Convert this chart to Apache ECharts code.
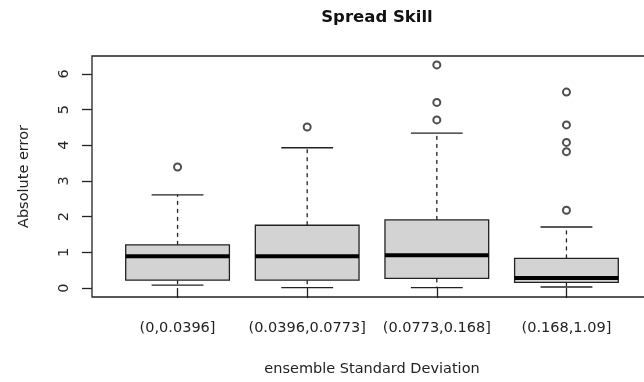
<!DOCTYPE html>
<html>
<head>
<meta charset="utf-8">
<script src="https://cdn.jsdelivr.net/npm/echarts@6/dist/echarts.min.js"></script>
<style>
  html, body { margin: 0; padding: 0; background: #fff; }
  #chart { width: 644px; height: 382px; }
</style>
</head>
<body>
<div id="chart"></div>
<script>
// Spread-skill boxplot: absolute error grouped by ensemble standard deviation bins
const categories = ['(0,0.0396]', '(0.0396,0.0773]', '(0.0773,0.168]', '(0.168,1.09]'];
const lowerWhisker = [0.08, 0.01, 0.01, 0.03];
const lowerHinge   = [0.22, 0.22, 0.27, 0.16];
const medians      = [0.89, 0.89, 0.92, 0.28];
const upperHinge   = [1.21, 1.76, 1.91, 0.83];
const upperWhisker = [2.61, 3.93, 4.34, 1.71];
const outliers = [
  [3.39],
  [4.51],
  [6.25, 5.20, 4.71],
  [5.49, 4.57, 4.08, 3.82, 2.18]
];
const yTicks = [0, 1, 2, 3, 4, 5, 6];
const xTicks = [1, 2, 3, 4];

const FONT = 'DejaVu Sans, Verdana, sans-serif';
const INK = '#222';
const LABEL_SIZE = 14.5;

const boxData = categories.map((c, i) => [
  i + 1, lowerWhisker[i], lowerHinge[i], medians[i], upperHinge[i], upperWhisker[i]
]);
const outlierData = [];
outliers.forEach((vals, i) => vals.forEach(v => outlierData.push([i + 1, v])));

// whiskers (dashed), staples, box and a heavy median bar for one group
function renderBox(params, api) {
  const x = api.value(0);
  const lo = api.coord([x, api.value(1)]);
  const q1 = api.coord([x, api.value(2)]);
  const md = api.coord([x, api.value(3)]);
  const q3 = api.coord([x, api.value(4)]);
  const hi = api.coord([x, api.value(5)]);
  const half = api.size([0.4, 0])[0];
  const cap = api.size([0.2, 0])[0];
  const cx = q1[0];
  const edge = { stroke: INK, lineWidth: 1.3, fill: null };
  const dashed = { stroke: INK, lineWidth: 1.3, lineDash: [4, 4], fill: null };
  return {
    type: 'group',
    children: [
      { type: 'line', shape: { x1: cx, y1: q3[1], x2: cx, y2: hi[1] }, style: dashed },
      { type: 'line', shape: { x1: cx, y1: q1[1], x2: cx, y2: lo[1] }, style: dashed },
      { type: 'line', shape: { x1: cx - cap, y1: hi[1], x2: cx + cap, y2: hi[1] }, style: edge },
      { type: 'line', shape: { x1: cx - cap, y1: lo[1], x2: cx + cap, y2: lo[1] }, style: edge },
      { type: 'rect', shape: { x: cx - half, y: q3[1], width: half * 2, height: q1[1] - q3[1] },
        style: { fill: '#d3d3d3', stroke: INK, lineWidth: 1.3 } },
      { type: 'line', shape: { x1: cx - half, y1: md[1], x2: cx + half, y2: md[1] },
        style: { stroke: '#000', lineWidth: 4 } }
    ]
  };
}

const chart = echarts.init(document.getElementById('chart'), null, { renderer: 'canvas' });
chart.setOption({
  animation: false,
  backgroundColor: '#fff',
  textStyle: { fontFamily: FONT, color: INK },
  title: {
    text: 'Spread Skill',
    left: 372, top: 4, textAlign: 'center',
    textStyle: { fontFamily: FONT, fontWeight: 'bold', fontSize: 16.5, color: '#111' }
  },
  grid: {
    left: 92, top: 56, width: 560, height: 241,
    outerBoundsMode: 'none', containLabel: false,
    show: true, borderColor: INK, borderWidth: 1.3, backgroundColor: 'transparent'
  },
  xAxis: {
    type: 'value', min: 0.34, max: 4.66,
    name: 'ensemble Standard Deviation', nameLocation: 'middle', nameGap: 65,
    nameTextStyle: { fontFamily: FONT, fontSize: LABEL_SIZE, color: INK },
    axisLine: { show: false },
    splitLine: { show: false },
    axisTick: { show: true, customValues: xTicks, length: 10, lineStyle: { color: INK, width: 1.3 } },
    axisLabel: {
      customValues: xTicks, margin: 24, fontFamily: FONT, fontSize: LABEL_SIZE, color: INK,
      formatter: v => categories[Math.round(v) - 1]
    }
  },
  yAxis: {
    type: 'value', min: -0.25, max: 6.5,
    name: 'Absolute error', nameLocation: 'middle', nameGap: 60, nameRotate: 90,
    nameTextStyle: { fontFamily: FONT, fontSize: LABEL_SIZE, color: INK },
    axisLine: { show: false },
    splitLine: { show: false },
    axisTick: { show: true, customValues: yTicks, length: 10, lineStyle: { color: INK, width: 1.3 } },
    axisLabel: {
      customValues: yTicks, rotate: 90, margin: 20, fontFamily: FONT, fontSize: LABEL_SIZE, color: INK
    }
  },
  series: [
    {
      type: 'custom',
      renderItem: renderBox,
      data: boxData,
      encode: { x: 0, y: [1, 2, 3, 4, 5] },
      z: 2
    },
    {
      type: 'scatter',
      data: outlierData,
      symbol: 'emptyCircle',
      symbolSize: 7,
      itemStyle: { color: INK, borderColor: INK, borderWidth: 1.4 },
      z: 3
    }
  ]
});
</script>
</body>
</html>
